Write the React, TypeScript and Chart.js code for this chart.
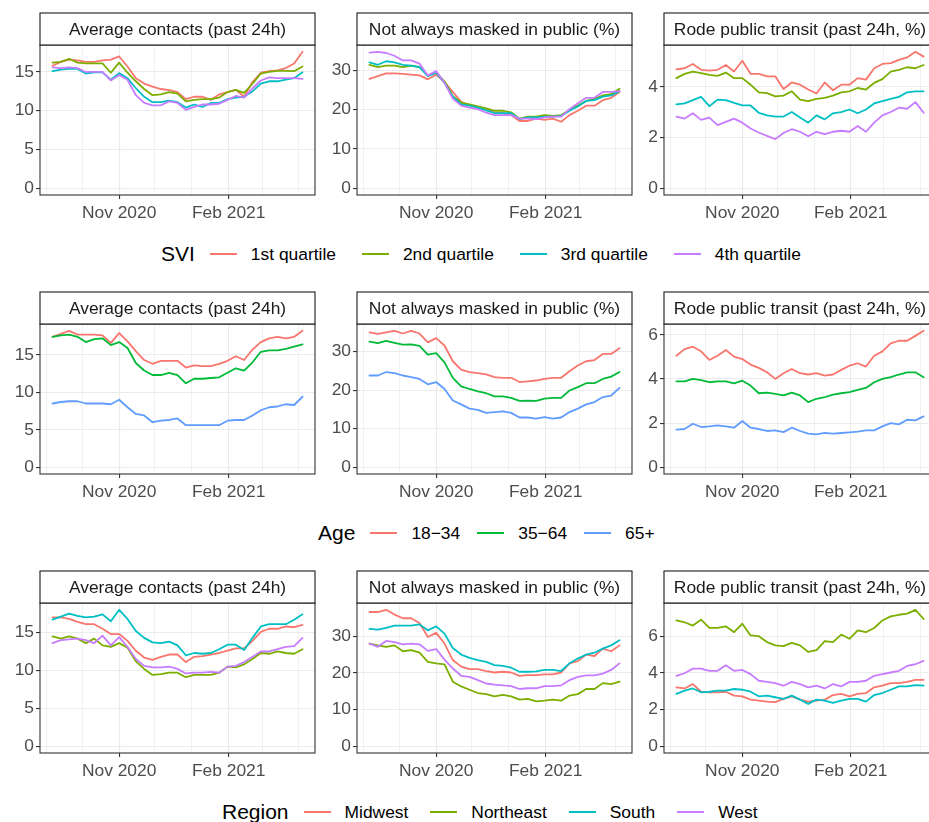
import React, { useEffect, useRef } from "react";
import { Chart, registerables } from "chart.js";

Chart.register(...registerables);

if (typeof document !== "undefined") {
  document.body.style.margin = "0";
}

const FONT = '"Liberation Sans", Arial, Helvetica, sans-serif';

// ---------- x axis ----------
const weekDates = [
  "2020-09-06", "2020-09-13", "2020-09-20", "2020-09-27",
  "2020-10-04", "2020-10-11", "2020-10-18", "2020-10-25",
  "2020-11-01", "2020-11-08", "2020-11-15", "2020-11-22", "2020-11-29",
  "2020-12-06", "2020-12-13", "2020-12-20", "2020-12-27",
  "2021-01-03", "2021-01-10", "2021-01-17", "2021-01-24", "2021-01-31",
  "2021-02-07", "2021-02-14", "2021-02-21", "2021-02-28",
  "2021-03-07", "2021-03-14", "2021-03-21", "2021-03-28",
  "2021-04-04",
];
const monthGridDates = [
  "2020-09-01", "2020-10-01", "2020-11-01", "2020-12-01",
  "2021-01-01", "2021-02-01", "2021-03-01", "2021-04-01",
];
const monthTickLabels: Record<string, string> = {
  "2020-11-01": "Nov 2020",
  "2021-02-01": "Feb 2021",
};

// ---------- panel titles ----------
const titleContacts = "Average contacts (past 24h)";
const titleMasked = "Not always masked in public (%)";
const titleTransit = "Rode public transit (past 24h, %)";

// ---------- SVI ----------
const sviLabels = ["1st quartile", "2nd quartile", "3rd quartile", "4th quartile"];
const sviContactsQ1 = [15.8, 16.3, 16.6, 16.5, 16.3, 16.3, 16.5, 16.6, 17.0, 15.7, 14.2, 13.5, 13.1, 12.8, 12.65, 12.4, 11.5, 11.8, 11.8, 11.4, 12.1, 12.4, 12.7, 11.8, 13.7, 14.9, 15.1, 15.2, 15.5, 16.1, 17.6];
const sviContactsQ2 = [16.2, 16.3, 16.7, 16.2, 16.1, 16.1, 16.1, 14.9, 16.2, 14.9, 13.8, 12.8, 12.0, 12.1, 12.4, 12.2, 11.2, 11.4, 11.5, 11.5, 11.7, 12.4, 12.7, 12.3, 13.5, 14.8, 15.0, 15.15, 15.15, 15.1, 15.7];
const sviContactsQ3 = [15.1, 15.3, 15.4, 15.4, 14.8, 14.95, 14.95, 14.0, 14.85, 14.2, 12.9, 11.8, 11.1, 11.1, 11.3, 11.1, 10.4, 10.8, 10.5, 11.0, 11.0, 11.5, 11.7, 11.8, 12.5, 13.5, 13.8, 13.8, 14.0, 14.2, 14.95];
const sviContactsQ4 = [15.6, 15.5, 15.6, 15.5, 15.0, 15.0, 15.0, 13.9, 14.6, 14.0, 12.0, 11.0, 10.7, 10.7, 11.2, 11.0, 10.1, 10.5, 10.8, 10.8, 10.9, 11.4, 11.9, 11.7, 12.9, 13.9, 14.3, 14.2, 14.2, 14.2, 14.1];

const sviMaskedQ1 = [27.8, 28.5, 29.2, 29.2, 29.1, 28.9, 28.7, 27.7, 28.9, 27.0, 24.5, 22.0, 21.0, 20.5, 20.1, 19.2, 19.1, 18.6, 17.1, 17.1, 17.7, 17.4, 17.7, 16.9, 18.6, 19.7, 21.0, 21.0, 22.4, 23.0, 24.5];
const sviMaskedQ2 = [31.4, 30.8, 31.2, 31.2, 30.8, 31.2, 30.8, 28.7, 29.4, 27.2, 23.4, 21.8, 21.3, 20.8, 20.3, 19.7, 19.7, 19.3, 17.7, 18.2, 18.2, 18.6, 18.4, 18.6, 19.9, 21.0, 22.2, 22.7, 23.6, 23.9, 25.3];
const sviMaskedQ3 = [32.0, 31.4, 32.3, 32.0, 31.4, 31.2, 30.8, 28.5, 29.4, 26.8, 23.3, 21.3, 21.0, 20.5, 19.8, 19.1, 19.1, 19.1, 17.6, 18.0, 18.0, 18.2, 18.2, 18.4, 19.7, 20.8, 22.2, 22.4, 23.3, 23.6, 24.7];
const sviMaskedQ4 = [34.5, 34.7, 34.4, 33.7, 32.5, 32.5, 31.7, 28.7, 29.8, 26.8, 22.8, 21.0, 20.5, 20.1, 19.2, 18.6, 18.6, 18.6, 17.7, 17.7, 17.6, 18.0, 18.2, 18.2, 20.1, 21.6, 23.0, 23.0, 24.5, 24.5, 24.7];

const sviTransitQ1 = [4.70, 4.74, 4.91, 4.68, 4.65, 4.68, 4.87, 4.61, 5.04, 4.52, 4.52, 4.42, 4.42, 3.92, 4.18, 4.09, 3.90, 3.74, 4.18, 3.87, 4.09, 4.09, 4.35, 4.29, 4.74, 4.91, 4.94, 5.07, 5.17, 5.39, 5.20];
const sviTransitQ2 = [4.35, 4.52, 4.61, 4.55, 4.48, 4.44, 4.57, 4.35, 4.35, 4.09, 3.79, 3.76, 3.63, 3.66, 3.83, 3.50, 3.44, 3.53, 3.57, 3.66, 3.79, 3.83, 3.96, 3.90, 4.16, 4.31, 4.61, 4.68, 4.78, 4.74, 4.87];
const sviTransitQ3 = [3.31, 3.35, 3.48, 3.61, 3.24, 3.50, 3.48, 3.37, 3.27, 3.27, 2.98, 2.88, 2.83, 2.83, 3.01, 2.79, 2.59, 2.88, 2.72, 2.96, 3.01, 3.11, 2.96, 3.11, 3.35, 3.44, 3.53, 3.61, 3.79, 3.83, 3.83];
const sviTransitQ4 = [2.83, 2.75, 2.96, 2.70, 2.79, 2.49, 2.62, 2.75, 2.59, 2.36, 2.20, 2.07, 1.94, 2.18, 2.33, 2.23, 2.05, 2.23, 2.14, 2.23, 2.27, 2.23, 2.46, 2.23, 2.59, 2.88, 3.01, 3.18, 3.14, 3.40, 2.98];

// ---------- Age ----------
const ageLabels = ["18\u221234", "35\u221264", "65+"];
const ageContacts1834 = [17.4, 17.8, 18.2, 17.7, 17.7, 17.7, 17.6, 16.6, 17.9, 16.8, 15.5, 14.3, 13.8, 14.2, 14.2, 14.2, 13.3, 13.6, 13.5, 13.5, 13.8, 14.2, 14.8, 14.3, 15.7, 16.7, 17.2, 17.4, 17.2, 17.4, 18.2];
const ageContacts3564 = [17.4, 17.6, 17.7, 17.4, 16.7, 17.1, 17.2, 16.3, 16.7, 15.9, 13.9, 12.9, 12.3, 12.3, 12.6, 12.3, 11.2, 11.8, 11.8, 11.9, 12.0, 12.6, 13.2, 12.9, 14.0, 15.4, 15.6, 15.6, 15.8, 16.1, 16.4];
const ageContacts65 = [8.5, 8.7, 8.8, 8.8, 8.5, 8.5, 8.5, 8.4, 9.0, 8.0, 7.1, 6.9, 6.0, 6.2, 6.3, 6.5, 5.6, 5.6, 5.6, 5.6, 5.6, 6.2, 6.3, 6.3, 6.9, 7.6, 8.0, 8.1, 8.4, 8.3, 9.4];

const ageMasked1834 = [35.0, 34.6, 35.0, 35.4, 34.7, 35.4, 34.7, 32.4, 33.5, 31.6, 27.5, 25.3, 24.7, 24.4, 24.1, 23.4, 23.2, 23.2, 22.1, 22.3, 22.5, 22.9, 23.2, 23.2, 24.9, 26.4, 27.5, 27.8, 29.4, 29.4, 30.9];
const ageMasked3564 = [32.6, 32.2, 32.8, 32.3, 31.8, 31.9, 31.5, 29.2, 29.6, 27.2, 23.2, 21.0, 20.3, 19.7, 19.2, 18.4, 18.4, 18.0, 17.2, 17.3, 17.2, 17.8, 18.0, 18.0, 19.9, 20.8, 21.8, 21.8, 22.9, 23.5, 24.7];
const ageMasked65 = [23.8, 23.8, 24.7, 24.4, 23.8, 23.4, 22.9, 21.5, 22.1, 20.3, 17.3, 16.3, 15.2, 14.9, 14.1, 14.3, 14.5, 14.1, 12.9, 12.9, 12.6, 13.0, 12.6, 12.9, 14.3, 15.2, 16.3, 16.9, 18.2, 18.6, 20.6];

const ageTransit1834 = [5.05, 5.35, 5.46, 5.25, 4.86, 5.05, 5.31, 5.01, 4.90, 4.65, 4.50, 4.30, 4.00, 4.26, 4.45, 4.26, 4.20, 4.26, 4.15, 4.20, 4.41, 4.60, 4.71, 4.56, 5.05, 5.25, 5.61, 5.73, 5.73, 5.95, 6.18];
const ageTransit3564 = [3.89, 3.89, 4.00, 3.95, 3.85, 3.89, 3.89, 3.80, 3.92, 3.70, 3.35, 3.38, 3.32, 3.25, 3.38, 3.25, 2.95, 3.10, 3.17, 3.29, 3.35, 3.40, 3.50, 3.59, 3.85, 4.00, 4.08, 4.20, 4.30, 4.30, 4.08];
const ageTransit65 = [1.70, 1.73, 1.97, 1.82, 1.85, 1.89, 1.85, 1.79, 2.09, 1.79, 1.73, 1.64, 1.67, 1.59, 1.79, 1.64, 1.52, 1.49, 1.55, 1.52, 1.55, 1.58, 1.61, 1.67, 1.67, 1.85, 2.00, 1.94, 2.15, 2.12, 2.30];

// ---------- Region ----------
const regionLabels = ["Midwest", "Northeast", "South", "West"];
const regionContactsMW = [17.0, 17.0, 16.8, 16.4, 16.1, 16.1, 15.5, 14.8, 14.8, 13.9, 12.6, 11.7, 11.4, 11.8, 12.1, 12.1, 11.1, 11.8, 11.9, 12.1, 12.3, 12.6, 12.9, 12.9, 13.9, 15.1, 15.5, 15.5, 15.8, 15.7, 16.0];
const regionContactsNE = [14.5, 14.2, 14.5, 14.2, 13.6, 14.2, 13.3, 13.1, 13.6, 13.0, 11.2, 10.2, 9.4, 9.5, 9.7, 9.7, 9.1, 9.4, 9.4, 9.4, 9.7, 10.5, 10.4, 10.8, 11.5, 12.3, 12.2, 12.5, 12.3, 12.2, 12.8];
const regionContactsS = [16.7, 17.1, 17.5, 17.2, 17.0, 17.1, 17.4, 16.5, 18.0, 16.8, 15.2, 14.3, 13.7, 13.6, 13.8, 13.3, 12.0, 12.3, 12.2, 12.3, 12.8, 13.4, 13.4, 12.7, 14.3, 15.8, 16.1, 16.1, 16.1, 16.7, 17.4];
const regionContactsW = [13.6, 14.0, 14.1, 14.2, 14.0, 13.6, 14.6, 13.3, 14.4, 13.1, 11.5, 10.6, 10.4, 10.4, 10.5, 10.2, 9.6, 9.7, 9.7, 9.8, 9.7, 10.5, 10.6, 11.1, 11.8, 12.5, 12.5, 12.8, 13.1, 13.2, 14.3];

const regionMaskedMW = [36.6, 36.6, 37.2, 35.9, 34.9, 34.9, 33.6, 29.8, 30.9, 28.0, 23.5, 21.7, 21.0, 21.0, 20.5, 20.1, 20.3, 20.1, 19.2, 19.4, 19.4, 19.6, 19.6, 20.1, 22.6, 23.2, 25.0, 24.6, 26.6, 25.9, 27.5];
const regionMaskedNE = [28.0, 27.5, 27.1, 27.5, 25.9, 26.2, 25.5, 23.0, 22.6, 22.3, 17.6, 16.3, 15.4, 14.5, 14.2, 13.6, 14.0, 13.6, 12.7, 12.9, 12.2, 12.4, 12.7, 12.4, 13.8, 14.2, 15.6, 15.6, 17.2, 16.9, 17.6];
const regionMaskedS = [32.0, 31.8, 32.3, 32.9, 32.9, 32.9, 33.2, 31.6, 32.7, 30.7, 26.8, 25.0, 24.1, 23.5, 23.0, 22.1, 21.9, 21.4, 20.3, 20.3, 20.4, 20.8, 20.8, 20.5, 22.6, 23.9, 25.0, 25.5, 26.6, 27.5, 28.9];
const regionMaskedW = [28.0, 27.1, 28.7, 28.4, 27.8, 28.0, 27.8, 26.0, 26.5, 23.6, 21.2, 19.2, 18.9, 18.0, 17.1, 16.8, 16.6, 16.4, 15.6, 15.8, 15.8, 16.4, 16.4, 16.6, 18.0, 18.9, 19.3, 19.3, 19.8, 20.8, 22.6];

const regionTransitMW = [3.21, 3.15, 3.39, 2.97, 2.94, 2.94, 2.97, 2.76, 2.72, 2.54, 2.49, 2.43, 2.40, 2.58, 2.72, 2.54, 2.43, 2.49, 2.54, 2.79, 2.85, 2.72, 2.85, 2.90, 3.21, 3.30, 3.44, 3.44, 3.51, 3.62, 3.62];
const regionTransitNE = [6.86, 6.76, 6.58, 6.90, 6.45, 6.45, 6.54, 6.22, 6.68, 6.04, 6.00, 5.68, 5.50, 5.46, 5.64, 5.50, 5.14, 5.24, 5.73, 5.68, 6.09, 5.86, 6.32, 6.22, 6.45, 6.86, 7.08, 7.17, 7.23, 7.44, 6.94];
const regionTransitS = [2.85, 3.03, 3.15, 2.94, 2.97, 3.03, 3.03, 3.12, 3.08, 2.97, 2.72, 2.76, 2.67, 2.58, 2.76, 2.54, 2.31, 2.54, 2.49, 2.36, 2.49, 2.58, 2.58, 2.43, 2.79, 2.90, 3.08, 3.26, 3.26, 3.33, 3.30];
const regionTransitW = [3.84, 3.98, 4.23, 4.23, 4.11, 4.11, 4.41, 4.11, 4.16, 3.93, 3.57, 3.51, 3.44, 3.30, 3.51, 3.39, 3.21, 3.30, 3.15, 3.39, 3.26, 3.51, 3.51, 3.57, 3.84, 3.93, 4.02, 4.11, 4.38, 4.47, 4.65];

// ---------- colours ----------
const colors4 = ["#F8766D", "#7CAE00", "#00BFC4", "#C77CFF"];
const colors3 = ["#F8766D", "#00BA38", "#619CFF"];

// ---------- helpers ----------
const DAY0 = Date.UTC(2020, 8, 1);
const toDay = (s: string) => (Date.parse(s + "T00:00:00Z") - DAY0) / 86400000;

const PLOT_H = 150;
const Y_AXIS_W = 40;
const X_AXIS_H = 30;
const STRIP_H = 32;
const PAD_TOP = STRIP_H + 1;
const PAD_RIGHT = 2;
const CANVAS_H = PAD_TOP + PLOT_H + X_AXIS_H;

const stripPlugin = {
  id: "facetStrip",
  afterDraw(chart: any, _args: any, opts: any) {
    const { ctx, chartArea: a } = chart;
    ctx.save();
    ctx.strokeStyle = "#333333";
    ctx.lineWidth = 1.1;
    ctx.strokeRect(a.left, a.top, a.right - a.left, a.bottom - a.top);
    const top = a.top - STRIP_H;
    ctx.fillStyle = "#FFFFFF";
    ctx.fillRect(a.left, top, a.right - a.left, STRIP_H);
    ctx.strokeStyle = "#1A1A1A";
    ctx.strokeRect(a.left, top, a.right - a.left, STRIP_H);
    ctx.fillStyle = "#1A1A1A";
    ctx.font = `17.4px ${FONT}`;
    ctx.textAlign = "center";
    ctx.textBaseline = "middle";
    ctx.fillText(opts.text, (a.left + a.right) / 2, top + STRIP_H / 2 + 1.5);
    ctx.restore();
  },
};

type PanelProps = {
  left: number;
  top: number;
  plotW: number;
  title: string;
  series: number[][];
  labels: string[];
  colors: string[];
  step: number;
};

function Panel({ left, top, plotW, title, series, labels, colors, step }: PanelProps) {
  const ref = useRef<HTMLCanvasElement>(null);
  const canvasW = Y_AXIS_W + plotW + PAD_RIGHT;
  useEffect(() => {
    const xs = weekDates.map(toDay);
    const x0 = xs[0];
    const x1 = xs[xs.length - 1];
    const xPad = (x1 - x0) * 0.05;
    const gridDays = monthGridDates.map(toDay);
    const labelByDay: Record<number, string> = {};
    monthGridDates.forEach((d) => {
      if (monthTickLabels[d]) labelByDay[toDay(d)] = monthTickLabels[d];
    });
    const ymax = Math.max(...series.flat());
    const yMin = -0.05 * ymax;
    const yMax = ymax * 1.05;
    const yTicks: number[] = [];
    for (let v = 0; v <= yMax; v += step) yTicks.push(v);

    const n = series.length;
    const chart = new Chart(ref.current as HTMLCanvasElement, {
      type: "line",
      data: {
        datasets: series.map((s, k) => ({
          label: labels[k],
          data: s.map((y, i) => ({ x: xs[i], y })),
          borderColor: colors[k],
          backgroundColor: colors[k],
          borderWidth: 1.8,
          pointRadius: 0,
          tension: 0,
          fill: false,
          borderJoinStyle: "round" as const,
          borderCapStyle: "round" as const,
          order: n - 1 - k,
        })),
      },
      options: {
        animation: false,
        responsive: false,
        devicePixelRatio: 1,
        layout: { padding: { top: PAD_TOP, right: PAD_RIGHT, left: 0, bottom: 0 } },
        plugins: {
          legend: { display: false },
          tooltip: { enabled: false },
          facetStrip: { text: title },
        } as any,
        scales: {
          x: {
            type: "linear",
            min: x0 - xPad,
            max: x1 + xPad,
            afterBuildTicks: (s: any) => {
              s.ticks = gridDays.map((v) => ({ value: v }));
            },
            afterFit: (s: any) => {
              s.height = X_AXIS_H;
            },
            ticks: {
              autoSkip: false,
              maxRotation: 0,
              minRotation: 0,
              padding: 4,
              color: "#4D4D4D",
              font: { family: FONT, size: 17.4 },
              callback: (v: any) => labelByDay[v as number] || "",
            },
            grid: {
              color: "#EBEBEB",
              lineWidth: (c: any) => (c.tick && labelByDay[c.tick.value] ? 1.1 : 0.7),
              tickColor: (c: any) =>
                c.tick && labelByDay[c.tick.value] ? "#333333" : "rgba(0,0,0,0)",
              tickLength: 4,
              tickWidth: 1.1,
            },
            border: { display: false },
          },
          y: {
            type: "linear",
            min: yMin,
            max: yMax,
            afterBuildTicks: (s: any) => {
              s.ticks = yTicks.map((v) => ({ value: v }));
            },
            afterFit: (s: any) => {
              s.width = Y_AXIS_W;
            },
            ticks: {
              padding: 2,
              color: "#4D4D4D",
              font: { family: FONT, size: 17.4 },
              callback: (v: any) => String(v),
            },
            grid: {
              color: "#EBEBEB",
              lineWidth: 1.1,
              tickColor: "#333333",
              tickLength: 4,
              tickWidth: 1.1,
            },
            border: { display: false },
          },
        },
      } as any,
      plugins: [stripPlugin],
    });
    return () => chart.destroy();
  }, []);
  return (
    <canvas
      ref={ref}
      width={canvasW}
      height={CANVAS_H}
      style={{ position: "absolute", left, top, width: canvasW, height: CANVAS_H }}
    />
  );
}

type LegendProps = {
  left: number;
  centerY: number;
  title: string;
  labels: string[];
  colors: string[];
  gap: number;
};

function Legend({ left, centerY, title, labels, colors, gap }: LegendProps) {
  return (
    <div
      style={{
        position: "absolute",
        left,
        top: centerY - 15,
        height: 30,
        display: "flex",
        alignItems: "center",
        whiteSpace: "nowrap",
        fontFamily: FONT,
        color: "#000",
      }}
    >
      <span style={{ fontSize: 21, marginRight: 15 }}>{title}</span>
      {labels.map((l, i) => (
        <React.Fragment key={l}>
          <span
            style={{
              display: "inline-block",
              width: 27,
              height: 2,
              background: colors[i],
              marginRight: 14,
            }}
          />
          <span style={{ fontSize: 17.4, marginRight: i < labels.length - 1 ? gap : 0 }}>{l}</span>
        </React.Fragment>
      ))}
    </div>
  );
}

const colLefts = [0, 317, 624];
const colPlotW = [275, 275, 272];
const rowTops = [12, 291, 570];

export default function App() {
  useEffect(() => {
    document.body.style.margin = "0";
    document.body.style.overflow = "hidden";
  }, []);
  return (
    <div
      style={{
        position: "relative",
        width: 929,
        height: 822,
        overflow: "hidden",
        background: "#FFFFFF",
      }}
    >
      {/* SVI row */}
      <Panel left={colLefts[0]} plotW={colPlotW[0]} top={rowTops[0]} title={titleContacts} labels={sviLabels} colors={colors4} step={5}
        series={[sviContactsQ1, sviContactsQ2, sviContactsQ3, sviContactsQ4]} />
      <Panel left={colLefts[1]} plotW={colPlotW[1]} top={rowTops[0]} title={titleMasked} labels={sviLabels} colors={colors4} step={10}
        series={[sviMaskedQ1, sviMaskedQ2, sviMaskedQ3, sviMaskedQ4]} />
      <Panel left={colLefts[2]} plotW={colPlotW[2]} top={rowTops[0]} title={titleTransit} labels={sviLabels} colors={colors4} step={2}
        series={[sviTransitQ1, sviTransitQ2, sviTransitQ3, sviTransitQ4]} />
      <Legend left={161} centerY={254} title="SVI" labels={sviLabels} colors={colors4} gap={26} />

      {/* Age row */}
      <Panel left={colLefts[0]} plotW={colPlotW[0]} top={rowTops[1]} title={titleContacts} labels={ageLabels} colors={colors3} step={5}
        series={[ageContacts1834, ageContacts3564, ageContacts65]} />
      <Panel left={colLefts[1]} plotW={colPlotW[1]} top={rowTops[1]} title={titleMasked} labels={ageLabels} colors={colors3} step={10}
        series={[ageMasked1834, ageMasked3564, ageMasked65]} />
      <Panel left={colLefts[2]} plotW={colPlotW[2]} top={rowTops[1]} title={titleTransit} labels={ageLabels} colors={colors3} step={2}
        series={[ageTransit1834, ageTransit3564, ageTransit65]} />
      <Legend left={318} centerY={533} title="Age" labels={ageLabels} colors={colors3} gap={17} />

      {/* Region row */}
      <Panel left={colLefts[0]} plotW={colPlotW[0]} top={rowTops[2]} title={titleContacts} labels={regionLabels} colors={colors4} step={5}
        series={[regionContactsMW, regionContactsNE, regionContactsS, regionContactsW]} />
      <Panel left={colLefts[1]} plotW={colPlotW[1]} top={rowTops[2]} title={titleMasked} labels={regionLabels} colors={colors4} step={10}
        series={[regionMaskedMW, regionMaskedNE, regionMaskedS, regionMaskedW]} />
      <Panel left={colLefts[2]} plotW={colPlotW[2]} top={rowTops[2]} title={titleTransit} labels={regionLabels} colors={colors4} step={2}
        series={[regionTransitMW, regionTransitNE, regionTransitS, regionTransitW]} />
      <Legend left={222} centerY={812} title="Region" labels={regionLabels} colors={colors4} gap={22} />
    </div>
  );
}
